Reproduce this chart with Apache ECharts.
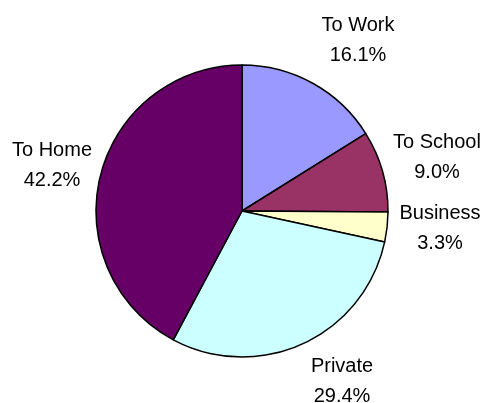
<!DOCTYPE html>
<html>
<head>
<meta charset="utf-8">
<script src="https://cdn.jsdelivr.net/npm/echarts@6/dist/echarts.min.js"></script>
<style>
  html, body { margin: 0; padding: 0; background: #ffffff; }
  #chart { width: 487px; height: 403px; }
</style>
</head>
<body>
<div id="chart"></div>
<script>
// Trip purposes, share of trips (%)
const categories = ['To Work', 'To School', 'Business', 'Private', 'To Home'];
const shares = [16.1, 9.0, 3.3, 29.4, 42.2];
const sliceColors = ['#9999FF', '#993366', '#FFFFCC', '#CCFFFF', '#660066'];

// Label anchor points (centre of each two-line label)
const labelSpots = [
  [358, 40],
  [437, 157],
  [440, 228],
  [342, 381],
  [52, 165]
];

const chart = echarts.init(document.getElementById('chart'), null, { renderer: 'canvas' });

chart.setOption({
  backgroundColor: '#ffffff',
  animation: false,
  series: [{
    type: 'pie',
    center: [242, 211],
    radius: [0, 146],
    startAngle: 90,
    clockwise: true,
    avoidLabelOverlap: false,
    data: categories.map((name, i) => ({
      name: name,
      value: shares[i],
      itemStyle: { color: sliceColors[i] }
    })),
    itemStyle: { borderColor: '#000000', borderWidth: 1.5 },
    label: {
      show: true,
      position: 'outside',
      formatter: p => p.name + '\n' + p.value.toFixed(1) + '%',
      fontFamily: 'Liberation Sans, Arial, sans-serif',
      fontSize: 20,
      lineHeight: 30,
      color: '#000000',
      align: 'center'
    },
    labelLine: { show: false },
    labelLayout: p => ({
      x: labelSpots[p.dataIndex][0],
      y: labelSpots[p.dataIndex][1],
      align: 'center',
      verticalAlign: 'middle'
    }),
    emphasis: { disabled: true }
  }]
});
</script>
</body>
</html>
